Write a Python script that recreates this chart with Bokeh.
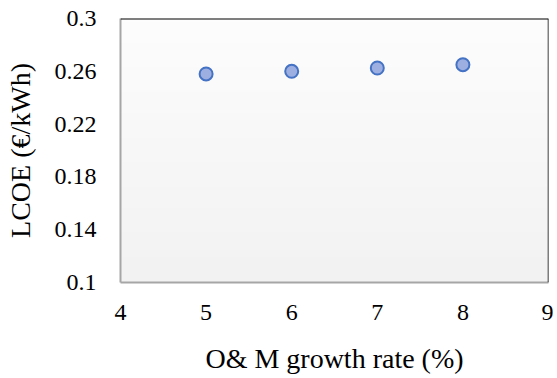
import numpy as np
from bokeh.plotting import figure
from bokeh.models import Span, FixedTicker, Range1d, CustomJSTickFormatter
from bokeh.embed import file_html
from bokeh.resources import INLINE

growth_rate = [5, 6, 7, 8]
lcoe = [0.258, 0.260, 0.2625, 0.265]
x_ticks = [4, 5, 6, 7, 8, 9]
y_ticks = [0.1, 0.14, 0.18, 0.22, 0.26, 0.3]
x_min, x_max = 4, 9
y_min, y_max = 0.1, 0.3

FONT = "'Liberation Serif'"
TICK_FONT = "Times New Roman"

p = figure(width=553, height=378, output_backend="svg", toolbar_location=None,
           x_range=Range1d(x_min, x_max), y_range=Range1d(y_min, y_max),
           min_border_left=120, min_border_right=5, min_border_top=18, min_border_bottom=96)
p.background_fill_color = "white"
p.border_fill_color = "white"
p.outline_line_color = None
p.grid.visible = False

# subtle vertical gradient in the plot area
n = 64
t = np.linspace(0, 1, n)  # bottom -> top
vals = (242 + (253 - 242) * t).astype(np.uint32)
img = np.empty((n, 1), dtype=np.uint32)
view = img.view(dtype=np.uint8).reshape((n, 1, 4))
view[:, 0, 0] = vals
view[:, 0, 1] = vals
view[:, 0, 2] = vals
view[:, 0, 3] = 255
p.image_rgba(image=[img], x=x_min, y=y_min, dw=x_max - x_min, dh=y_max - y_min)

p.scatter(growth_rate, lcoe, size=13, fill_color="#9cafe0", line_color="#4472c4", line_width=2)

p.add_layout(Span(location=y_max, dimension="width", line_color="black", line_width=2))
p.add_layout(Span(location=x_max, dimension="height", line_color="black", line_width=1.5))

for ax in (p.xaxis[0], p.yaxis[0]):
    ax.axis_line_color = "#a6a6a6"
    ax.axis_line_width = 2
    ax.major_tick_line_color = None
    ax.minor_tick_line_color = None
    ax.major_label_text_font = TICK_FONT
    ax.major_label_text_font_size = "24px"
    ax.major_label_text_color = "black"
    ax.axis_label_text_font = FONT
    ax.axis_label_text_font_size = "28px"
    ax.axis_label_text_font_style = "normal"
    ax.axis_label_text_color = "black"

p.xaxis.ticker = FixedTicker(ticks=x_ticks)
p.yaxis.ticker = FixedTicker(ticks=y_ticks)
p.yaxis.formatter = CustomJSTickFormatter(code="return String(Math.round(tick * 100) / 100);")
p.xaxis.major_label_standoff = 16
p.yaxis.major_label_standoff = 18
p.xaxis.axis_label = "O& M growth rate (%)"
p.yaxis.axis_label = "LCOE (€/kWh)"
p.xaxis.axis_label_standoff = 20
p.yaxis.axis_label_standoff = 16

open("out.html", "w").write(file_html(p, INLINE))
